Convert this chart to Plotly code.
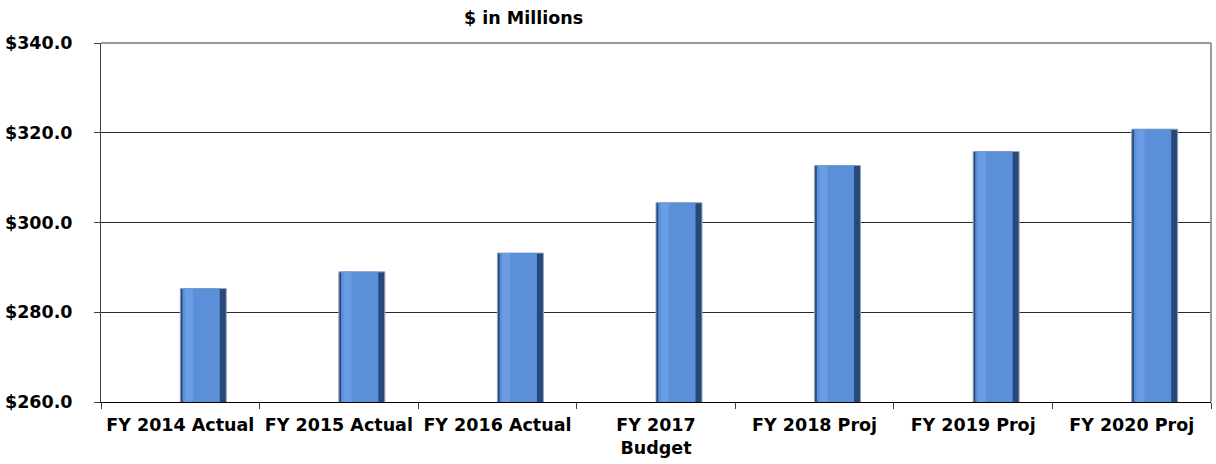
import plotly.graph_objects as go

# Fiscal-year revenue, $ in millions
categories = ["FY 2014 Actual", "FY 2015 Actual", "FY 2016 Actual",
              "FY 2017<br>Budget", "FY 2018 Proj", "FY 2019 Proj", "FY 2020 Proj"]
values = [285.3, 289.0, 293.2, 304.4, 312.7, 315.8, 320.8]

y_min, y_max, y_step = 260, 340, 20

FONT = "DejaVu Sans"
FSIZE = 17.5

fig = go.Figure()

# dark outer body of each column (gives the shaded edges)
fig.add_trace(go.Bar(
    x=categories, y=values,
    offset=0.0, width=0.29,
    marker=dict(color="#27497a", line=dict(color="#9aa6b8", width=1)),
    hoverinfo="skip", showlegend=False,
))
# lighter face of each column
fig.add_trace(go.Bar(
    x=categories, y=values,
    offset=0.014, width=0.235,
    marker=dict(color="#5b8fd8", line=dict(width=0)),
    showlegend=False,
))
# highlight strip on the left side of the face
fig.add_trace(go.Bar(
    x=categories, y=values,
    offset=0.03, width=0.05,
    marker=dict(color="#6a9de3", line=dict(width=0)),
    hoverinfo="skip", showlegend=False,
))

fig.update_layout(
    width=1216, height=464,
    margin=dict(l=99, r=5, t=43, b=62),
    paper_bgcolor="white", plot_bgcolor="white",
    barmode="overlay",
    font=dict(family=FONT, size=FSIZE, color="black"),
    xaxis=dict(
        type="category",
        showgrid=False,
        showline=True, linecolor="#000000", linewidth=1,
        ticks="outside", tickson="boundaries", ticklen=6, tickcolor="#404040",
        ticklabelstandoff=7,
        tickfont=dict(family=FONT, size=FSIZE, color="black", weight="bold"),
    ),
    yaxis=dict(
        range=[y_min, y_max], dtick=y_step, tick0=y_min,
        tickprefix="$", tickformat=".1f",
        showgrid=True, gridcolor="#2a2a2a", gridwidth=1,
        showline=True, linecolor="#404040", linewidth=1,
        ticks="outside", ticklen=6, tickcolor="#404040",
        ticklabelstandoff=18,
        tickfont=dict(family=FONT, size=FSIZE, color="black", weight="bold"),
        zeroline=False,
    ),
    shapes=[
        # grey frame along the top and right of the plotting area
        dict(type="line", xref="paper", yref="paper", x0=0, x1=1, y0=1, y1=1,
             line=dict(color="#9a9a9a", width=2)),
        dict(type="line", xref="paper", yref="paper", x0=1, x1=1, y0=0, y1=1,
             line=dict(color="#9a9a9a", width=2)),
    ],
    annotations=[
        dict(text="$ in Millions", xref="paper", yref="paper",
             x=0.381, y=1, yshift=25, xanchor="center", yanchor="middle",
             showarrow=False,
             font=dict(family=FONT, size=FSIZE, color="black", weight="bold")),
    ],
)

fig.write_html("out.html")
